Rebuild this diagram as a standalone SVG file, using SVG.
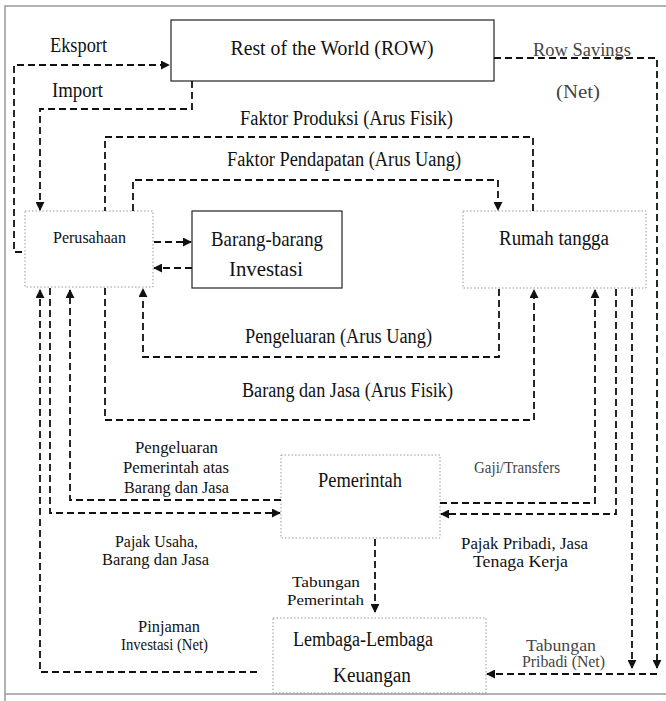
<svg xmlns="http://www.w3.org/2000/svg" width="666" height="701" viewBox="0 0 666 701">
<style>
text{font-family:"Liberation Serif","Times New Roman",serif;fill:#111;}
.t{font-size:20.5px;}
.s{font-size:17px;}
.g{fill:#444;}
.m{text-anchor:middle;}
.solid{fill:#fff;stroke:#222;stroke-width:1.2;}
.dot{fill:none;stroke:#999;stroke-width:1;stroke-dasharray:1.5 2;}
.c{fill:none;stroke:#111;stroke-width:1.8;stroke-dasharray:7 4;}
.a{marker-end:url(#ah);}
.frame{fill:none;stroke:#999;stroke-width:1.5;}
</style>
<defs>
<marker id="ah" viewBox="0 0 10 10" refX="9" refY="5" markerWidth="9" markerHeight="9" orient="auto" markerUnits="userSpaceOnUse">
<path d="M0,0 L10,5 L0,10 z" fill="#111"/>
</marker>
</defs>
<rect width="666" height="701" fill="#fff"/>
<path class="frame" d="M5,701 V6 H666 M5,694 H666"/>

<g id="row">
<rect class="solid" x="171" y="20" width="323" height="61"/>
<text class="m" x="332" y="55" font-size="22" textLength="203" lengthAdjust="spacingAndGlyphs">Rest of the World (ROW)</text>
</g>
<g id="perusahaan">
<rect class="dot" x="25" y="211" width="128" height="76"/>
<text class="m" x="89.5" y="243" font-size="17" textLength="73" lengthAdjust="spacingAndGlyphs">Perusahaan</text>
</g>
<g id="barang-investasi">
<rect class="solid" x="192" y="211" width="150" height="77"/>
<text class="m" x="267" y="246" font-size="21" textLength="112" lengthAdjust="spacingAndGlyphs">Barang-barang</text>
<text class="m" x="266" y="276" font-size="21" textLength="74" lengthAdjust="spacingAndGlyphs">Investasi</text>
</g>
<g id="rumah-tangga">
<rect class="dot" x="463" y="211" width="183" height="77"/>
<text class="t m" x="554" y="245" textLength="110" lengthAdjust="spacingAndGlyphs">Rumah tangga</text>
</g>
<g id="pemerintah">
<rect class="dot" x="281" y="455" width="159" height="83"/>
<text class="t m" x="360" y="487" textLength="84" lengthAdjust="spacingAndGlyphs">Pemerintah</text>
</g>
<g id="lembaga-keuangan">
<rect class="dot" x="273" y="618" width="213" height="75"/>
<text class="t m" x="363" y="646" textLength="140" lengthAdjust="spacingAndGlyphs">Lembaga-Lembaga</text>
<text class="t m" x="372" y="682" textLength="78" lengthAdjust="spacingAndGlyphs">Keuangan</text>
</g>

<g id="connectors">
<path class="c a" d="M22,252 H14 V65 H169"/>
<path class="c a" d="M192,81 V109 H40 V210"/>
<path class="c" d="M533,211 V137 H105 V211"/>
<path class="c a" d="M133,211 V180 H498 V210"/>
<path class="c a" d="M154,242 H191"/>
<path class="c a" d="M192,268 H154"/>
<path class="c a" d="M499,289 V357 H143 V289"/>
<path class="c a" d="M105,288 V420 H534 V290"/>
<path class="c a" d="M494,58 H657 V668"/>
<path class="c a" d="M440,503 H595 V290"/>
<path class="c a" d="M616,289 V514 H441"/>
<path class="c a" d="M632,289 V668"/>
<path class="c a" d="M657,674 H487"/>
<path class="c a" d="M281,500 H70 V290"/>
<path class="c a" d="M50,288 V513 H280"/>
<path class="c a" d="M257,672 H40 V290"/>
<path class="c a" d="M375,539 V612"/>
</g>

<g id="labels">
<text x="50" y="52" font-size="21" textLength="57" lengthAdjust="spacingAndGlyphs">Eksport</text>
<text x="52" y="97" font-size="21" textLength="51" lengthAdjust="spacingAndGlyphs">Import</text>
<text class="g" x="533" y="56" font-size="19.5" textLength="98" lengthAdjust="spacingAndGlyphs">Row Savings</text>
<text class="g" x="556" y="98" font-size="18" textLength="44" lengthAdjust="spacingAndGlyphs">(Net)</text>
<text class="t m" x="346.5" y="125" textLength="213" lengthAdjust="spacingAndGlyphs">Faktor Produksi (Arus Fisik)</text>
<text class="t m" x="344" y="166" textLength="234" lengthAdjust="spacingAndGlyphs">Faktor Pendapatan (Arus Uang)</text>
<text class="t m" x="338.5" y="343" textLength="187" lengthAdjust="spacingAndGlyphs">Pengeluaran (Arus Uang)</text>
<text class="t m" x="347.5" y="397" textLength="211" lengthAdjust="spacingAndGlyphs">Barang dan Jasa (Arus Fisik)</text>
<text class="s m" x="176.5" y="453" textLength="83" lengthAdjust="spacingAndGlyphs">Pengeluaran</text>
<text class="s m" x="176" y="473" textLength="106" lengthAdjust="spacingAndGlyphs">Pemerintah atas</text>
<text class="s m" x="176.5" y="493" textLength="105" lengthAdjust="spacingAndGlyphs">Barang dan Jasa</text>
<text class="g" x="474" y="473" font-size="16.5" textLength="86" lengthAdjust="spacingAndGlyphs">Gaji/Transfers</text>
<text class="s m" x="156.5" y="547" textLength="83" lengthAdjust="spacingAndGlyphs">Pajak Usaha,</text>
<text class="s m" x="155.5" y="565" textLength="107" lengthAdjust="spacingAndGlyphs">Barang dan Jasa</text>
<text class="s m" x="524.5" y="549" textLength="127" lengthAdjust="spacingAndGlyphs">Pajak Pribadi, Jasa</text>
<text class="s m" x="520.5" y="567" textLength="95" lengthAdjust="spacingAndGlyphs">Tenaga Kerja</text>
<text class="m" x="326" y="587" font-size="15" textLength="68" lengthAdjust="spacingAndGlyphs">Tabungan</text>
<text class="m" x="325.5" y="605" font-size="15" textLength="77" lengthAdjust="spacingAndGlyphs">Pemerintah</text>
<text class="s m" x="169" y="632" textLength="62" lengthAdjust="spacingAndGlyphs">Pinjaman</text>
<text class="s m" x="164.5" y="650" textLength="87" lengthAdjust="spacingAndGlyphs">Investasi (Net)</text>
<text class="g m" x="561" y="651" font-size="16" textLength="70" lengthAdjust="spacingAndGlyphs">Tabungan</text>
<text class="g m" x="563.5" y="667" font-size="16" textLength="83" lengthAdjust="spacingAndGlyphs">Pribadi (Net)</text>
</g>
</svg>
